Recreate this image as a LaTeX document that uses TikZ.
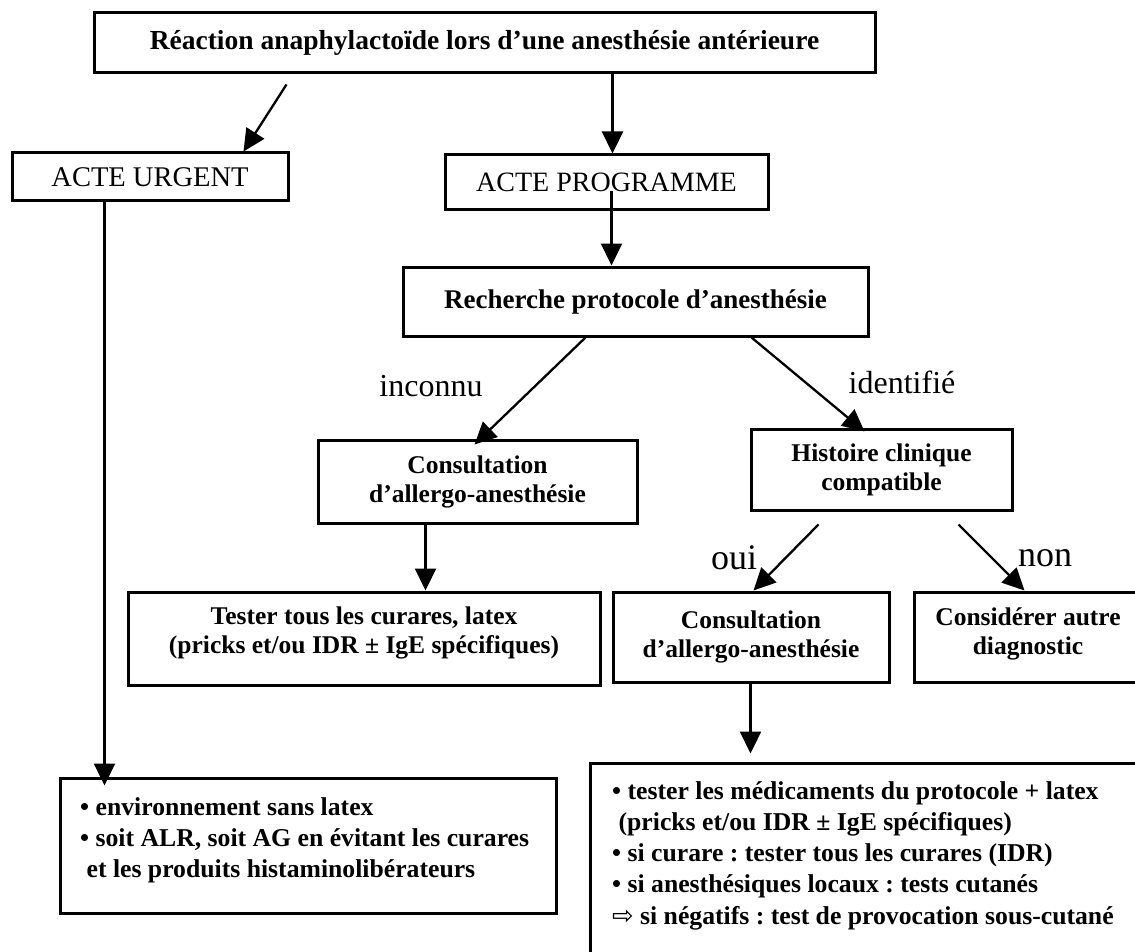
\documentclass[tikz,border=0pt]{standalone}
\usepackage{fontspec}
\setmainfont{Liberation Serif}
\newfontfamily\symfont{DejaVu Sans}
\usetikzlibrary{arrows.meta,calc}
\frenchspacing
\begin{document}
\begin{tikzpicture}[x=1pt,y=-1pt,
  box/.style={draw, line width=3pt, inner sep=0pt, align=center,
    font=\bfseries\fontsize{25.5}{29}\selectfont},
  txt/.style={inner sep=0pt, align=center, font=\bfseries\fontsize{25.5}{29}\selectfont},
  bul/.style={inner sep=0pt, align=left, font=\bfseries\fontsize{25.7}{31.3}\selectfont},
  arr/.style={line width=2.3pt, -{Triangle[length=22pt,width=21pt]}},
  lab/.style={inner sep=0pt, font=\fontsize{32}{36}\selectfont},
  biglab/.style={inner sep=0pt, font=\fontsize{36}{40}\selectfont}]
\useasboundingbox (0,0) rectangle (1135,952);
\clip (0,0) rectangle (1135,952);

% boxes
\node[box, minimum width=781, minimum height=60, font=\bfseries\fontsize{27.5}{30}\selectfont]
  (top) at (484.5,43) {Réaction anaphylactoïde lors d’une anesthésie antérieure};
\node[box, minimum width=276, minimum height=48, font=\fontsize{28.5}{30}\selectfont]
  (urgent) at (150,177) {ACTE URGENT};
\node[box, minimum width=323, minimum height=55, font=\fontsize{28}{30}\selectfont]
  (prog) at (606.5,182.5) {ACTE PROGRAMME};
\node[box, minimum width=465, minimum height=69, font=\bfseries\fontsize{27}{30}\selectfont]
  (rech) at (635.5,301.5) {Recherche protocole d’anesthésie};
\node[box, minimum width=319, minimum height=83]
  (cons1) at (477.5,481.5) {Consultation\\d’allergo-anesthésie};
\node[box, minimum width=261, minimum height=81]
  (hist) at (881.5,469.5) {Histoire clinique\\compatible};
\node[box, minimum width=472, minimum height=93] (tester) at (364,638.5) {};
\node[txt] (testerT) at (364,633) {Tester tous les curares, latex\\(pricks et/ou IDR ± IgE spécifiques)};
\node[box, minimum width=276, minimum height=90]
  (cons2) at (751,637) {Consultation\\d’allergo-anesthésie};
\node[box, minimum width=246, minimum height=90] (consid) at (1037,637) {};
\node[txt] (considT) at (1028,634) {Considérer autre\\diagnostic};
\node[box, minimum width=496, minimum height=135] (bl) at (308,845.5) {};
\node[bul, anchor=north west] (blT) at (80,797) {• environnement sans latex\\• soit ALR, soit AG en évitant les curares\\\ et les produits histaminolibérateurs};
\node[box, minimum width=570, minimum height=217] (br) at (875,871.5) {};
\node[bul, anchor=north west] (brT) at (612,781) {• tester les médicaments du protocole + latex\\\ (pricks et/ou IDR ± IgE spécifiques)\\• si curare : tester tous les curares (IDR)\\• si anesthésiques locaux : tests cutanés\\{\symfont\mdseries ⇨} si négatifs : test de provocation sous-cutané};

% labels
\node[lab] (inconnu) at (431,386) {inconnu};
\node[lab] (identifie) at (902,382) {identifié};
\node[biglab] (oui) at (734,558) {oui};
\node[biglab] (non) at (1045,558) {non};

% connectors
\draw[arr] ($(top.south west)+(194,10)$) -- ($(urgent.north west)+(233,0)$);
\draw[arr] ($(top.south west)+(520,0)$) -- ($(prog.north west)+(169,0)$);
\draw[arr] ($(urgent.south west)+(94,0)$) -- ($(bl.north west)+(46,9)$);
\draw[arr] ($(prog.south west)+(168,-20)$) -- ($(rech.north west)+(210,0)$);
\draw[arr] ($(rech.south west)+(184,0)$) -- ($(cons1.north west)+(158,6)$);
\draw[arr] ($(rech.south west)+(350,0)$) -- ($(hist.north west)+(115,4)$);
\draw[arr] ($(cons1.south west)+(109,0)$) -- ($(tester.north west)+(299,0)$);
\draw[arr] ($(hist.south west)+(69,13)$) -- ($(cons2.north west)+(142,0)$);
\draw[arr] ($(hist.south west)+(209,13)$) -- ($(consid.north west)+(112,0)$);
\draw[arr] ($(cons2.south west)+(139,0)$) -- ($(br.north west)+(162,-8)$);
\end{tikzpicture}
\end{document}
